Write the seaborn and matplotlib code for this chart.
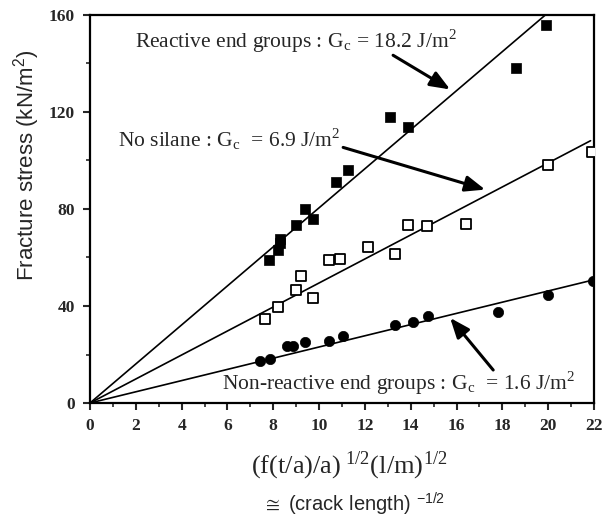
import matplotlib
matplotlib.use("Agg")
import matplotlib.pyplot as plt
import seaborn as sns
import pandas as pd
import numpy as np
from matplotlib.ticker import MultipleLocator

# ---- data ----
reactive_x = [7.8, 8.2, 8.3, 8.3, 9.0, 9.4, 9.75, 10.75, 11.25, 13.1, 13.9, 18.6, 19.9]
reactive_y = [59, 63, 66, 67.5, 73.5, 80, 76, 91, 96, 118, 114, 138, 156]

nosilane_x = [7.65, 8.2, 9.0, 9.2, 9.75, 10.45, 10.9, 12.15, 13.3, 13.9, 14.7, 16.4, 20.0, 21.9]
nosilane_y = [34.5, 39.5, 46.5, 52.5, 43.5, 59, 59.5, 64.5, 61.5, 73.5, 73, 74, 98, 103.5]

nonreactive_x = [7.4, 7.85, 8.6, 8.85, 9.4, 10.45, 11.05, 13.3, 14.1, 14.75, 17.8, 20.0, 21.95]
nonreactive_y = [17.5, 18, 23.5, 23.5, 25, 25.5, 27.5, 32, 33.5, 36, 37.5, 44.5, 50.5]

# fitted lines through origin: slopes and x end points
fit_names = ["Reactive", "No silane", "Non-reactive"]
fit_slopes = [8.05, 4.95, 2.31]
fit_xend = [19.87, 21.85, 22.0]

labels = ["Reactive end groups : G$_{\\mathregular{c}}$ = 18.2 J/m$^{\\mathregular{2}}$",
          "No silane : G$_{\\mathregular{c}}$  = 6.9 J/m$^{\\mathregular{2}}$",
          "Non-reactive end groups : G$_{\\mathregular{c}}$  = 1.6 J/m$^{\\mathregular{2}}$"]

x_ticks = list(range(0, 23, 2))
y_ticks = [0, 40, 80, 120, 160]

# ---- figure ----
sns.set_theme(style="ticks")
plt.rcParams['font.family'] = ['Liberation Serif', 'DejaVu Serif']
plt.rcParams['mathtext.fontset'] = 'stix'

fig = plt.figure(figsize=(6.02, 5.19), dpi=100)
ax = fig.add_axes([90/602, 1 - 403/519, (594-90)/602, (403-15)/519])

for name, s, xe in zip(fit_names, fit_slopes, fit_xend):
    lx = [0, xe]
    ly = [0, s * xe]
    sns.lineplot(x=lx, y=ly, ax=ax, color="black", lw=1.2, legend=False)

sns.scatterplot(x=reactive_x, y=reactive_y, ax=ax, marker="s", s=50,
                color="black", edgecolor="black", linewidth=0.5, zorder=5)
sns.scatterplot(x=nosilane_x, y=nosilane_y, ax=ax, marker="s", s=45,
                facecolor="white", edgecolor="black", linewidth=1.3, zorder=5)
sns.scatterplot(x=nonreactive_x, y=nonreactive_y, ax=ax, marker="o", s=55,
                color="black", edgecolor="black", linewidth=0.5, zorder=5)

ax.set_xlim(0, 22)
ax.set_ylim(0, 160)
ax.set_xticks(x_ticks)
ax.set_yticks(y_ticks)
ax.xaxis.set_minor_locator(MultipleLocator(1))
ax.yaxis.set_minor_locator(MultipleLocator(20))
ax.tick_params(which="major", direction="out", length=5, width=1.5, labelsize=12.5, pad=6)
ax.tick_params(which="minor", direction="out", length=3, width=1.2)
for lab in ax.get_xticklabels() + ax.get_yticklabels():
    lab.set_fontweight("bold")
for sp in ax.spines.values():
    sp.set_visible(True)
    sp.set_linewidth(1.6)
    sp.set_color("black")
ax.set_facecolor("white")
ax.grid(False)

fig.text(27/602, 1 - 165/519, "Fracture stress (kN/m$^{\\mathregular{2}}$)",
         family=["Liberation Sans", "DejaVu Sans"], rotation=90,
         ha="center", va="center", fontsize=16)

fig.text(349/602, 1 - 466/519, "(f(t/a)/a)$^{\\mathregular{\\ 1/2}}$(l/m)$^{\\mathregular{1/2}}$",
         ha="center", va="center", fontsize=19)
fig.text(354/602, 1 - 504/519, "$\\cong$ (crack length) $^{\\mathregular{-1/2}}$",
         family=["Liberation Sans", "DejaVu Sans"], ha="center", va="center", fontsize=14.5)

# annotations
ax.text(1.97, 149, labels[0], ha="left", va="center", fontsize=15.5)
ax.text(1.22, 108.7, labels[1], ha="left", va="center", fontsize=15.5)
ax.text(5.76, 7.9, labels[2], ha="left", va="center", fontsize=15.5)

arrow_kw = dict(arrowstyle="-|>,head_length=1.0,head_width=0.4", color="black", lw=2.2,
                shrinkA=0, shrinkB=0)
ax.annotate("", xy=(15.72, 129.3), xytext=(13.23, 143.4), arrowprops=arrow_kw)
ax.annotate("", xy=(17.25, 88.0), xytext=(11.05, 105.4), arrowprops=arrow_kw)
ax.annotate("", xy=(15.72, 35.1), xytext=(17.6, 13.6), arrowprops=arrow_kw)

fig.savefig("out.png", dpi=100, facecolor="white")
